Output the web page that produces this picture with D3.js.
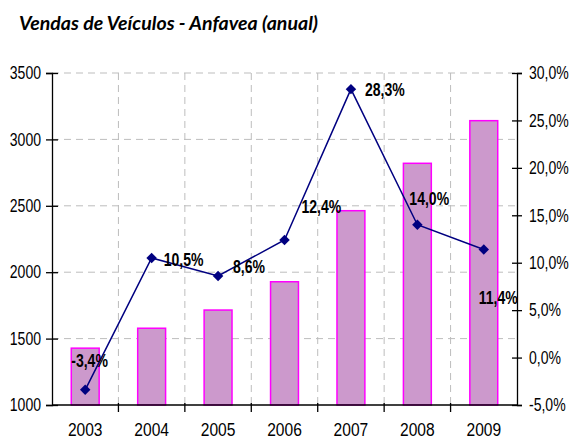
<html>
<head>
  <style>
  body { margin: 0; background: #fff; }
  .title { font: italic bold 19px Lato, "Open Sans", sans-serif; fill: #000; }
  .axis text { font: 18px "Liberation Sans", Arial, sans-serif; fill: #000; }
  .axis .xlab { font-size: 19px; }
  .axis path, .axis line { stroke: #000; stroke-width: 1.3; }
  .grid line { stroke: #bdbdbd; stroke-dasharray: 7,5; stroke-width: 1; }
  .bar { fill: #cc99cc; stroke: #ff00ff; stroke-width: 1.5; }
  .label { font: bold 18px "Liberation Sans", Arial, sans-serif; fill: #000; }
  </style>
  <script src="https://d3js.org/d3.v7.min.js"></script>
</head>
<body>
  <svg id="chart" width="576" height="441"></svg>
<script>
// chart data
var years = ["2003", "2004", "2005", "2006", "2007", "2008", "2009"];
var sales = [1428, 1578, 1715, 1928, 2463, 2820, 3141];
var growth = [-0.034, 0.105, 0.086, 0.124, 0.283, 0.140, 0.114];
var growthLabels = ["-3,4%", "10,5%", "8,6%", "12,4%", "28,3%", "14,0%", "11,4%"];
var leftTicks = [1000, 1500, 2000, 2500, 3000, 3500];
var rightTicks = [-0.05, 0, 0.05, 0.10, 0.15, 0.20, 0.25, 0.30];

// label nudges (as placed by hand in the original)
var labelDx = [-14, 12, 15, 17, 14, -8, -5];
var labelDy = [-23, 8, -3, -27, 7, -20, 55];

var plotL = 52, plotR = 517, plotT = 73, plotB = 405;

var svg = d3.select("#chart");

// squeeze text horizontally, like a narrow font
function narrow(sel, f) {
  sel.each(function() {
    var t = d3.select(this);
    var tx = +t.attr("x") || 0, ty = +t.attr("y") || 0;
    t.attr("x", 0).attr("y", 0)
      .attr("transform", "translate(" + tx + "," + ty + ") scale(" + f + ",1)");
  });
}

svg.append("text")
    .attr("class", "title")
    .attr("x", 19)
    .attr("y", 30)
    .attr("textLength", 299)
    .attr("lengthAdjust", "spacingAndGlyphs")
    .text("Vendas de Veículos - Anfavea (anual)");

var x = d3.scaleBand()
    .domain(years)
    .range([plotL, plotR]);

var y = d3.scaleLinear()
    .domain([1000, 3500])
    .range([plotB, plotT]);

var y2 = d3.scaleLinear()
    .domain([-0.05, 0.30])
    .range([plotB, plotT]);

var pct = function(d) { return d3.format(".1f")(d * 100).replace(".", ",").replace("\u2212", "-") + "%"; };

// horizontal grid
svg.append("g").attr("class", "grid")
  .selectAll("line")
    .data(leftTicks.slice(1))
  .enter().append("line")
    .attr("x1", plotL).attr("x2", plotR)
    .attr("y1", function(d) { return y(d); })
    .attr("y2", function(d) { return y(d); });

// vertical grid at category boundaries
svg.append("g").attr("class", "grid")
  .selectAll("line")
    .data(years.slice(1))
  .enter().append("line")
    .attr("x1", function(d) { return x(d); })
    .attr("x2", function(d) { return x(d); })
    .attr("y1", plotT).attr("y2", plotB);

// bars
var barW = x.bandwidth() * 0.42;
svg.selectAll(".bar")
    .data(sales)
  .enter().append("rect")
    .attr("class", "bar")
    .attr("x", function(d, i) { return x(years[i]) + (x.bandwidth() - barW) / 2; })
    .attr("y", function(d) { return y(d); })
    .attr("width", barW)
    .attr("height", function(d) { return y(1000) - y(d); });

// axes
var yAxis = svg.append("g").attr("class", "axis")
    .attr("transform", "translate(" + plotL + ",0)")
    .call(d3.axisLeft(y).tickValues(leftTicks).tickFormat(d3.format("d")).tickSizeOuter(0).tickSize(6).tickPadding(5));
yAxis.selectAll(".tick line").attr("x2", 6).attr("x1", -6);
narrow(yAxis.selectAll("text"), 0.78);

var y2Axis = svg.append("g").attr("class", "axis")
    .attr("transform", "translate(" + plotR + ",0)")
    .call(d3.axisRight(y2).tickValues(rightTicks).tickFormat(pct).tickSizeOuter(0).tickSize(5).tickPadding(7));
y2Axis.selectAll(".tick line").attr("x1", -5);
narrow(y2Axis.selectAll("text"), 0.78);

var xAxis = svg.append("g").attr("class", "axis")
    .attr("transform", "translate(0," + plotB + ")");
xAxis.append("line").attr("x1", plotL).attr("x2", plotR);
xAxis.selectAll(".xt")
    .data(years.slice(1))
  .enter().append("line")
    .attr("class", "xt")
    .attr("x1", function(d) { return x(d); })
    .attr("x2", function(d) { return x(d); })
    .attr("y1", -2).attr("y2", 7);
var xl = xAxis.selectAll(".xlab")
    .data(years)
  .enter().append("text")
    .attr("class", "xlab")
    .attr("x", function(d) { return x(d) + x.bandwidth() / 2; })
    .attr("y", 31)
    .attr("text-anchor", "middle")
    .text(function(d) { return d; });
narrow(xl, 0.82);

// growth line
var line = d3.line()
    .x(function(d, i) { return x(years[i]) + x.bandwidth() / 2; })
    .y(function(d) { return y2(d); });

svg.append("path")
    .datum(growth)
    .attr("d", line)
    .attr("fill", "none")
    .attr("stroke", "#000080")
    .attr("stroke-width", 1.5);

svg.selectAll(".pt")
    .data(growth)
  .enter().append("path")
    .attr("class", "pt")
    .attr("d", d3.symbol().type(d3.symbolDiamond2).size(70))
    .attr("fill", "#000080")
    .attr("transform", function(d, i) {
      return "translate(" + (x(years[i]) + x.bandwidth() / 2) + "," + y2(d) + ")";
    });

var labels = svg.selectAll(".label")
    .data(growth)
  .enter().append("text")
    .attr("class", "label")
    .attr("x", function(d, i) { return x(years[i]) + x.bandwidth() / 2 + labelDx[i]; })
    .attr("y", function(d, i) { return y2(d) + labelDy[i]; })
    .text(function(d, i) { return growthLabels[i]; });
narrow(labels, 0.78);
</script>
</body>
</html>
